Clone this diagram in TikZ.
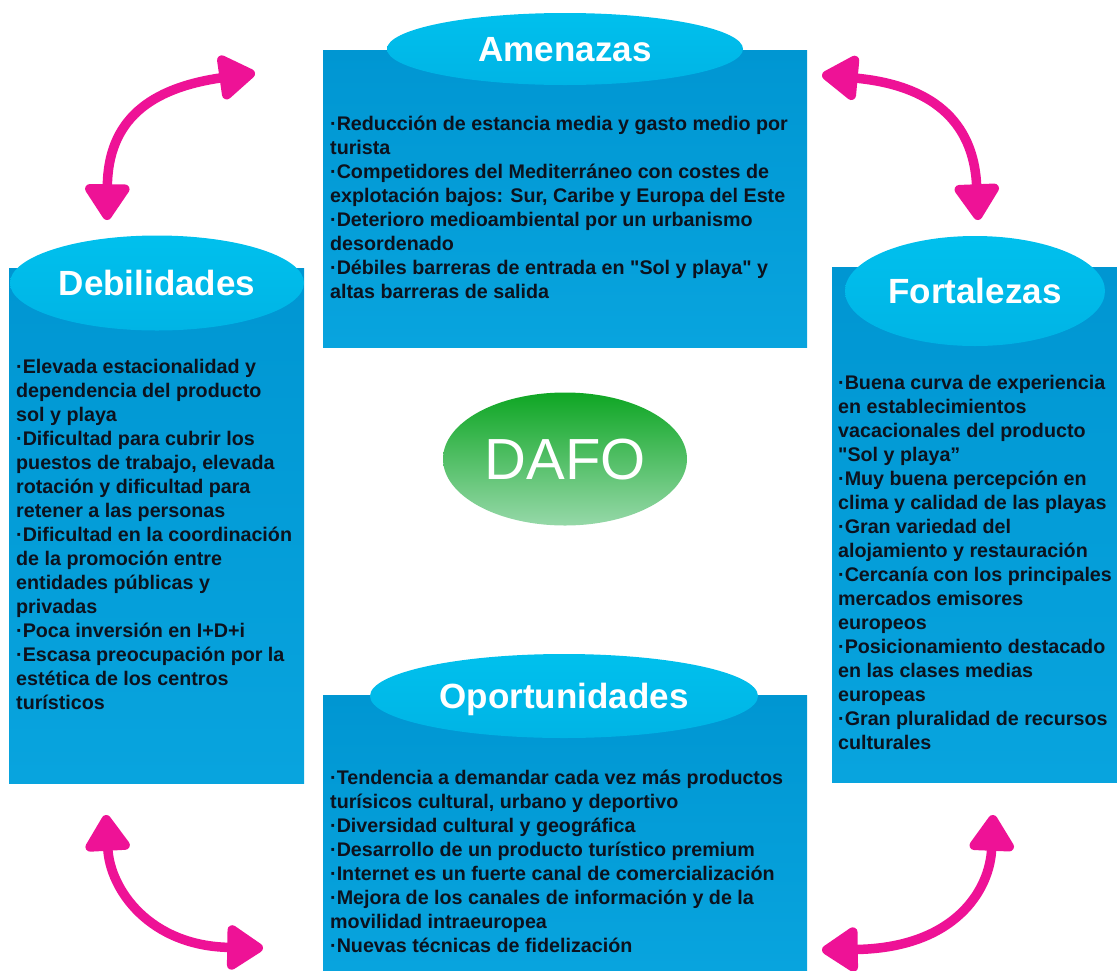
\documentclass[tikz,border=0pt]{standalone}
\usepackage{fontspec}
\setmainfont{Liberation Sans}[Ligatures=TeXOff]
\usetikzlibrary{arrows.meta,shapes.geometric}

\definecolor{boxtop}{RGB}{0,150,210}
\definecolor{boxbot}{RGB}{8,164,222}
\definecolor{captop}{RGB}{0,192,237}
\definecolor{capbot}{RGB}{0,180,229}
\definecolor{chalk}{RGB}{238,18,150}
\definecolor{ink}{RGB}{12,18,30}
\definecolor{gtop}{RGB}{14,166,36}
\definecolor{gbot}{RGB}{150,216,168}

\tikzset{
  panel/.style={top color=boxtop, bottom color=boxbot, draw=none,
    inner sep=0, anchor=north west},
  titlecap/.style={ellipse, top color=captop, bottom color=capbot, draw=none,
    inner sep=0, text=white, text height=25pt, text depth=0pt,
    font=\bfseries\fontsize{35}{40}\selectfont},
  body/.style={text=ink, inner sep=0, anchor=base west,
    font=\bfseries\fontsize{19.7}{24}\selectfont},
  chalkarrow/.style={chalk, line width=9.5pt,
    {Triangle[length=40pt,width=50pt,round]}-{Triangle[length=40pt,width=50pt,round]}}
}

\begin{document}
\begin{tikzpicture}[x=1pt,y=-1pt]
\useasboundingbox (0,0) rectangle (1117,970);

% four panels
\node[panel, minimum width=484pt, minimum height=297pt] (amenbox) at (323,50) {};
\node[panel, minimum width=295pt, minimum height=515pt] (debbox) at (9,268) {};
\node[panel, minimum width=285pt, minimum height=515pt] (fortbox) at (832,267) {};
\node[panel, minimum width=484pt, minimum height=275pt] (oporbox) at (323,695) {};

% title caps
\node[titlecap, minimum width=356pt, minimum height=72pt] (amen) at (565,49) {Amenazas};
\node[titlecap, minimum width=294pt, minimum height=95pt] (deb) at (157,283) {Debilidades};
\node[titlecap, minimum width=260pt, minimum height=110pt] (fort) at (975,291) {Fortalezas};
\node[titlecap, minimum width=388pt, minimum height=84pt] (opor) at (564,696) {Oportunidades};

% centre badge
\node[ellipse, top color=gtop, bottom color=gbot, draw=none, inner sep=0,
  minimum width=244pt, minimum height=133pt, text=white, text height=41.5pt,
  text depth=0pt, font=\fontsize{58}{64}\selectfont] (dafo) at (565,459) {DAFO};

% panel contents
\node[body] (amentext) at (330,130) {\begin{tabular}[t]{@{}l@{}}
·Reducción de estancia media y gasto medio por\\
turista\\
·Competidores del Mediterráneo con costes de\\
explotación bajos: Sur, Caribe y Europa del Este\\
·Deterioro medioambiental por un urbanismo\\
desordenado\\
·Débiles barreras de entrada en "Sol y playa" y\\
altas barreras de salida
\end{tabular}};

\node[body] (debtext) at (16,373) {\begin{tabular}[t]{@{}l@{}}
·Elevada estacionalidad y\\
dependencia del producto\\
sol y playa\\
·Dificultad para cubrir los\\
puestos de trabajo, elevada\\
rotación y dificultad para\\
retener a las personas\\
·Dificultad en la coordinación\\
de la promoción entre\\
entidades públicas y\\
privadas\\
·Poca inversión en I+D+i\\
·Escasa preocupación por la\\
estética de los centros\\
turísticos
\end{tabular}};

\node[body] (forttext) at (838,389) {\begin{tabular}[t]{@{}l@{}}
·Buena curva de experiencia\\
en establecimientos\\
vacacionales del producto\\
"Sol y playa”\\
·Muy buena percepción en\\
clima y calidad de las playas\\
·Gran variedad del\\
alojamiento y restauración\\
·Cercanía con los principales\\
mercados emisores\\
europeos\\
·Posicionamiento destacado\\
en las clases medias\\
europeas\\
·Gran pluralidad de recursos\\
culturales
\end{tabular}};

\node[body] (oportext) at (330,784) {\begin{tabular}[t]{@{}l@{}}
·Tendencia a demandar cada vez más productos\\
turísicos cultural, urbano y deportivo\\
·Diversidad cultural y geográfica\\
·Desarrollo de un producto turístico premium\\
·Internet es un fuerte canal de comercialización\\
·Mejora de los canales de información y de la\\
movilidad intraeuropea\\
·Nuevas técnicas de fidelización
\end{tabular}};

% double-headed chalk arrows in the corners
\coordinate (tlA) at (255,73);
\coordinate (tlB) at (107,220);
\coordinate (trA) at (822,75);
\coordinate (trB) at (978,220);
\coordinate (blA) at (106,815);
\coordinate (blB) at (263,948);
\coordinate (brA) at (993,815);
\coordinate (brB) at (822,950);

\draw[chalkarrow] (tlA) .. controls (150,88) and (108,120) .. (tlB);
\draw[chalkarrow] (trA) .. controls (930,85) and (974,120) .. (trB);
\draw[chalkarrow] (blA) .. controls (110,890) and (150,946) .. (blB);
\draw[chalkarrow] (brA) .. controls (990,890) and (955,948) .. (brB);
\end{tikzpicture}
\end{document}
